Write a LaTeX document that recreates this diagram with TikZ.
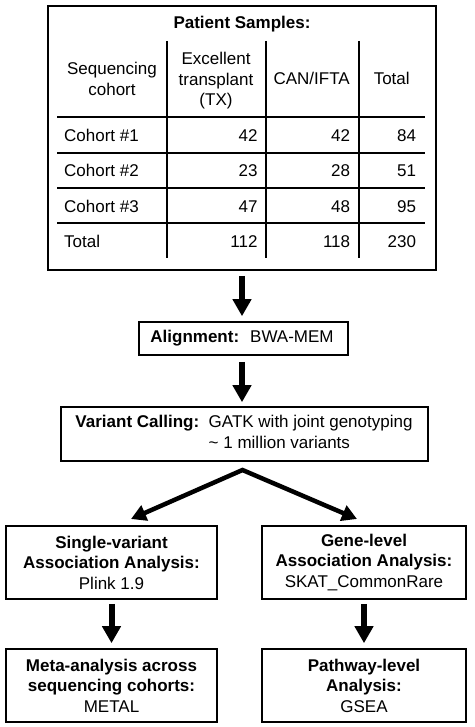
\documentclass[tikz,border=0pt]{standalone}
\usepackage{fontspec}
\setmainfont{Liberation Sans}
\usetikzlibrary{arrows.meta,calc}
\begin{document}
\begin{tikzpicture}[x=1pt,y=-1pt,
  every node/.style={font=\fontsize{17}{20.5}\selectfont, inner sep=0pt},
  frame/.style={draw, line width=1.6pt, rectangle},
  grid/.style={line width=1.2pt},
  bigarrow/.style={line width=6pt, -{Triangle[width=18pt,length=17pt]}},
  splitarrow/.style={line width=4.5pt, line join=miter, {Triangle[width=16pt,length=15pt]}-{Triangle[width=16pt,length=15pt]}},
  cell/.style={anchor=base west},
  num/.style={anchor=base east},
  boxtext/.style={align=center}
]
\useasboundingbox (0,0) rectangle (474,727);
% table frame
\node[frame, minimum width=388pt, minimum height=264pt] (samples) at (242,138) {};
\node[anchor=base] (title) at (242,29) {\bfseries Patient Samples:};
% grid lines
\draw[grid] (167,41) -- (167,258);
\draw[grid] (266,41) -- (266,258);
\draw[grid] (359,41) -- (359,258);
\draw[grid] (57,117) -- (425,117);
\draw[grid] (57,153) -- (425,153);
\draw[grid] (57,188) -- (425,188);
\draw[grid] (57,223) -- (425,223);
% headers
\node[boxtext] (hseq) at (112,79) {Sequencing\\cohort};
\node[boxtext] (htx) at (216,81) {Excellent\\transplant\\(TX)};
\node[anchor=base] (hcan) at (311.7,85) {CAN/IFTA};
\node[anchor=base] (htot) at (391.7,85) {Total};
% rows
\node[cell] (r1) at (64,141.7) {Cohort \#1};
\node[num] (r1a) at (257.7,141.7) {42};
\node[num] (r1b) at (350.3,141.7) {42};
\node[num] (r1c) at (416.3,141.7) {84};
\node[cell] (r2) at (64,176.7) {Cohort \#2};
\node[num] (r2a) at (257.7,176.7) {23};
\node[num] (r2b) at (350.3,176.7) {28};
\node[num] (r2c) at (416.3,176.7) {51};
\node[cell] (r3) at (64,212) {Cohort \#3};
\node[num] (r3a) at (257.7,212) {47};
\node[num] (r3b) at (350.3,212) {48};
\node[num] (r3c) at (416.3,212) {95};
\node[cell] (r4) at (64,247) {Total};
\node[num] (r4a) at (257.7,247) {112};
\node[num] (r4b) at (350.3,247) {118};
\node[num] (r4c) at (416.3,247) {230};
% alignment
\node[frame, minimum width=209pt, minimum height=33pt] (align) at (243.5,338.5) {};
\node (aligntext) at (242,338.5) {\textbf{Alignment:}\hspace{11pt}BWA-MEM};
% variant calling
\node[frame, minimum width=367pt, minimum height=54pt] (variant) at (244.5,434) {};
\node (varianttext) at (244,434) {\begin{tabular}{@{}l@{\hspace{9.5pt}}l@{}}\textbf{Variant Calling:} & GATK with joint genotyping\\ & \textasciitilde\ 1 million variants\end{tabular}};
% second level
\node[frame, boxtext, minimum width=211pt, minimum height=73pt] (single) at (111.5,562.5) {\textbf{Single-variant}\\\textbf{Association Analysis:}\\Plink 1.9};
\node[frame, boxtext, minimum width=204pt, minimum height=73pt] (gene) at (364,562.5) {\textbf{Gene-level}\\\textbf{Association Analysis:}\\SKAT\_CommonRare};
% third level
\node[frame, boxtext, minimum width=211pt, minimum height=73pt] (meta) at (111.5,685.5) {\textbf{Meta-analysis across}\\\textbf{sequencing cohorts:}\\METAL};
\node[frame, boxtext, minimum width=204pt, minimum height=73pt] (path) at (364,685.5) {\textbf{Pathway-level}\\\textbf{Analysis:}\\GSEA};
% arrows
\draw[bigarrow, shorten <=5pt, shorten >=5pt] (samples.south) -- (align.north -| samples.south);
\draw[bigarrow, shorten <=6pt, shorten >=4pt] (align.south -| samples.south) -- (variant.north -| samples.south);
\coordinate (apex) at (242.5,470);
\coordinate (ltip) at (131,519);
\coordinate (rtip) at (357,519);
\draw[splitarrow] (ltip) -- (apex) -- (rtip);
\draw[bigarrow, shorten <=4pt, shorten >=5pt] (single.south) -- (meta.north);
\draw[bigarrow, shorten <=4pt, shorten >=5pt] (gene.south) -- (path.north);
\end{tikzpicture}
\end{document}
